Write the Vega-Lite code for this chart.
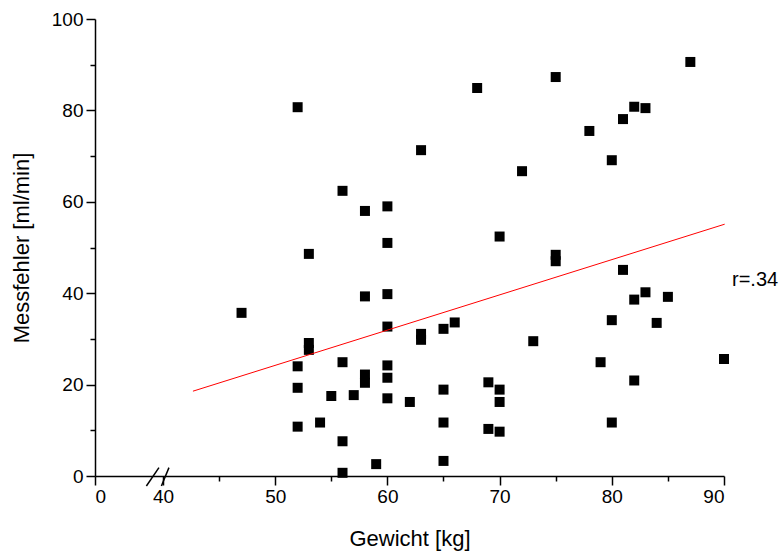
{
  "$schema": "https://vega.github.io/schema/vega-lite/v6.json",
  "width": 629,
  "height": 457,
  "autosize": "none",
  "padding": {"left": 95, "top": 19, "right": 60, "bottom": 78},
  "config": {
    "view": {"stroke": null},
    "font": "Liberation Sans",
    "axis": {
      "domainColor": "black", "tickColor": "black", "labelColor": "black", "titleColor": "black",
      "grid": false, "domainWidth": 1.5, "tickWidth": 1.5,
      "labelFont": "Liberation Sans", "titleFont": "Liberation Sans",
      "labelFontSize": 19, "titleFontSize": 22, "titleFontWeight": "normal"
    }
  },
  "datasets": {
    "points": [
      {"weight": 47, "error": 35.7},
      {"weight": 52, "error": 80.7}, {"weight": 52, "error": 24.0}, {"weight": 52, "error": 19.3}, {"weight": 52, "error": 10.8},
      {"weight": 53, "error": 48.6}, {"weight": 53, "error": 29.1}, {"weight": 53, "error": 27.6},
      {"weight": 54, "error": 11.7},
      {"weight": 55, "error": 17.5},
      {"weight": 56, "error": 62.4}, {"weight": 56, "error": 24.9}, {"weight": 56, "error": 7.6}, {"weight": 56, "error": 0.7},
      {"weight": 57, "error": 17.7},
      {"weight": 58, "error": 58.0}, {"weight": 58, "error": 39.3}, {"weight": 58, "error": 22.2}, {"weight": 58, "error": 20.4},
      {"weight": 59, "error": 2.6},
      {"weight": 60, "error": 59.0}, {"weight": 60, "error": 51.0}, {"weight": 60, "error": 39.8}, {"weight": 60, "error": 32.7}, {"weight": 60, "error": 24.2}, {"weight": 60, "error": 21.5}, {"weight": 60, "error": 17.0},
      {"weight": 62, "error": 16.2},
      {"weight": 63, "error": 71.3}, {"weight": 63, "error": 31.1}, {"weight": 63, "error": 29.8},
      {"weight": 65, "error": 32.2}, {"weight": 65, "error": 18.9}, {"weight": 65, "error": 11.7}, {"weight": 65, "error": 3.3},
      {"weight": 66, "error": 33.6},
      {"weight": 68, "error": 84.9},
      {"weight": 69, "error": 20.5}, {"weight": 69, "error": 10.3},
      {"weight": 70, "error": 52.4}, {"weight": 70, "error": 18.9}, {"weight": 70, "error": 16.2}, {"weight": 70, "error": 9.7},
      {"weight": 72, "error": 66.7},
      {"weight": 73, "error": 29.5},
      {"weight": 75, "error": 87.3}, {"weight": 75, "error": 48.4}, {"weight": 75, "error": 47.0},
      {"weight": 78, "error": 75.5},
      {"weight": 79, "error": 24.9},
      {"weight": 80, "error": 69.1}, {"weight": 80, "error": 34.1}, {"weight": 80, "error": 11.7},
      {"weight": 81, "error": 78.1}, {"weight": 81, "error": 45.1},
      {"weight": 82, "error": 80.8}, {"weight": 82, "error": 38.6}, {"weight": 82, "error": 20.9},
      {"weight": 83, "error": 80.5}, {"weight": 83, "error": 40.2},
      {"weight": 84, "error": 33.5},
      {"weight": 85, "error": 39.2},
      {"weight": 87, "error": 90.6},
      {"weight": 90, "error": 25.6}
    ],
    "fit": [
      {"weight": 42.67, "error": 18.56},
      {"weight": 90.06, "error": 55.1}
    ],
    "brk": [
      {"weight": 38.52, "error": -2.18, "weight2": 39.64, "error2": 1.83},
      {"weight": 39.86, "error": -2.18, "weight2": 40.53, "error2": 1.83}
    ],
    "note": [
      {"weight": 90, "error": 41.5, "label": "r=.34"}
    ]
  },
  "layer": [
    {
      "data": {"name": "points"},
      "mark": {"type": "square", "size": 100, "filled": true, "color": "black", "opacity": 1},
      "encoding": {
        "x": {
          "field": "weight", "type": "quantitative",
          "scale": {"domain": [33.94, 90], "nice": false, "zero": false},
          "axis": {
            "orient": "bottom",
            "values": [33.94, 40, 50, 60, 70, 80, 90],
            "labelExpr": "datum.value < 35 ? '0' : datum.label",
            "tickSize": 9, "labelPadding": 2,
            "title": "Gewicht [kg]", "titlePadding": 22
          }
        },
        "y": {
          "field": "error", "type": "quantitative",
          "scale": {"domain": [0, 100], "nice": false, "zero": false},
          "axis": {
            "orient": "left",
            "values": [0, 20, 40, 60, 80, 100],
            "tickSize": 9, "labelPadding": 3,
            "title": "Messfehler [ml/min]", "titlePadding": 18
          }
        }
      }
    },
    {
      "data": {"name": "fit"},
      "mark": {"type": "line", "color": "#ff0000", "strokeWidth": 1},
      "encoding": {
        "x": {
          "field": "weight", "type": "quantitative",
          "scale": {"domain": [33.94, 90], "nice": false, "zero": false},
          "axis": {"orient": "bottom", "values": [45, 55, 65, 75, 85], "tickSize": 5, "labels": false, "domain": false, "title": null}
        },
        "y": {
          "field": "error", "type": "quantitative",
          "scale": {"domain": [0, 100], "nice": false, "zero": false},
          "axis": {"orient": "left", "values": [10, 30, 50, 70, 90], "tickSize": 5, "labels": false, "domain": false, "title": null}
        }
      }
    },
    {
      "data": {"name": "brk"},
      "mark": {"type": "rule", "color": "black", "strokeWidth": 1.5},
      "encoding": {
        "x": {"field": "weight", "type": "quantitative", "scale": {"domain": [33.94, 90], "nice": false, "zero": false}, "axis": null},
        "y": {"field": "error", "type": "quantitative", "scale": {"domain": [0, 100], "nice": false, "zero": false}, "axis": null},
        "x2": {"field": "weight2"},
        "y2": {"field": "error2"}
      }
    },
    {
      "data": {"name": "note"},
      "mark": {"type": "text", "align": "left", "baseline": "alphabetic", "dx": 8, "fontSize": 20, "font": "Liberation Sans", "color": "black"},
      "encoding": {
        "x": {"field": "weight", "type": "quantitative", "scale": {"domain": [33.94, 90], "nice": false, "zero": false}, "axis": null},
        "y": {"field": "error", "type": "quantitative", "scale": {"domain": [0, 100], "nice": false, "zero": false}, "axis": null},
        "text": {"field": "label"}
      }
    }
  ],
  "resolve": {"axis": {"x": "independent", "y": "independent"}}
}
